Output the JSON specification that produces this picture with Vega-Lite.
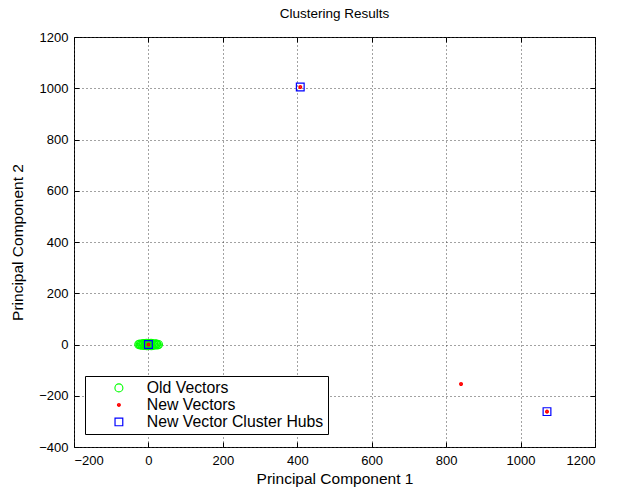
{
  "$schema": "https://vega.github.io/schema/vega-lite/v6.json",
  "width": 521,
  "height": 410,
  "autosize": "none",
  "padding": {"left": 74, "top": 37, "right": 25, "bottom": 40},
  "title": {"text": "Clustering Results", "fontSize": 13.5, "fontWeight": "normal", "font": "Liberation Sans", "color": "black", "offset": 11, "anchor": "middle"},
  "config": {
    "view": {"stroke": "black", "strokeWidth": 1},
    "font": "Liberation Sans",
    "axis": {
      "labelFont": "Liberation Sans", "labelFontSize": 13, "labelColor": "black",
      "titleFont": "Liberation Sans", "titleFontSize": 15.5, "titleFontWeight": "normal", "titleColor": "black",
      "domainColor": "black", "tickColor": "black", "gridColor": "#444444", "gridDash": [1, 3], "gridOpacity": 1
    }
  },
  "data": {"values": [
    {"series": "Old Vectors", "x": -26, "y": 0},
    {"series": "Old Vectors", "x": -23, "y": 2},
    {"series": "Old Vectors", "x": -22, "y": -2},
    {"series": "Old Vectors", "x": -19, "y": 1},
    {"series": "Old Vectors", "x": -17, "y": -3},
    {"series": "Old Vectors", "x": -15, "y": 3},
    {"series": "Old Vectors", "x": -13, "y": -1},
    {"series": "Old Vectors", "x": -12, "y": 4},
    {"series": "Old Vectors", "x": -10, "y": -4},
    {"series": "Old Vectors", "x": -8, "y": 2},
    {"series": "Old Vectors", "x": -7, "y": -2},
    {"series": "Old Vectors", "x": -5, "y": 5},
    {"series": "Old Vectors", "x": -4, "y": -5},
    {"series": "Old Vectors", "x": -2, "y": 1},
    {"series": "Old Vectors", "x": -1, "y": -3},
    {"series": "Old Vectors", "x": 1, "y": 4},
    {"series": "Old Vectors", "x": 2, "y": -4},
    {"series": "Old Vectors", "x": 4, "y": 2},
    {"series": "Old Vectors", "x": 5, "y": -1},
    {"series": "Old Vectors", "x": 7, "y": 5},
    {"series": "Old Vectors", "x": 8, "y": -5},
    {"series": "Old Vectors", "x": 10, "y": 3},
    {"series": "Old Vectors", "x": 12, "y": -3},
    {"series": "Old Vectors", "x": 14, "y": 1},
    {"series": "Old Vectors", "x": 16, "y": -2},
    {"series": "Old Vectors", "x": 18, "y": 3},
    {"series": "Old Vectors", "x": 20, "y": -1},
    {"series": "Old Vectors", "x": 22, "y": 2},
    {"series": "Old Vectors", "x": 24, "y": -2},
    {"series": "Old Vectors", "x": 27, "y": 0},
    {"series": "New Vectors", "x": 0, "y": 0},
    {"series": "New Vectors", "x": 408, "y": 1005},
    {"series": "New Vectors", "x": 840, "y": -154},
    {"series": "New Vectors", "x": 1071, "y": -262},
    {"series": "New Vector Cluster Hubs", "x": 0, "y": 0},
    {"series": "New Vector Cluster Hubs", "x": 408, "y": 1005},
    {"series": "New Vector Cluster Hubs", "x": 1071, "y": -262}
  ]},
  "resolve": {"axis": {"x": "independent", "y": "independent"}},
  "layer": [
    {
      "mark": {"type": "point", "filled": false, "opacity": 1},
      "encoding": {
        "x": {"field": "x", "type": "quantitative", "scale": {"domain": [-200, 1200], "nice": false, "zero": false},
          "axis": {"orient": "bottom", "values": [-200, 0, 200, 400, 600, 800, 1000, 1200], "format": "d", "grid": true, "tickSize": -5, "labelPadding": 12, "title": "Principal Component 1", "titlePadding": 4, "domain": false}},
        "y": {"field": "y", "type": "quantitative", "scale": {"domain": [-400, 1200], "nice": false, "zero": false},
          "axis": {"orient": "left", "values": [-400, -200, 0, 200, 400, 600, 800, 1000, 1200], "format": "d", "grid": true, "tickSize": -5, "labelPadding": 11, "title": "Principal Component 2", "titlePadding": 13, "domain": false}},
        "color": {"field": "series", "type": "nominal",
          "scale": {"domain": ["Old Vectors", "New Vectors", "New Vector Cluster Hubs"], "range": ["#00ff00", "#ff0000", "#0000ff"]},
          "legend": {"title": null, "orient": "none", "legendX": 11, "legendY": 339, "strokeColor": "black", "fillColor": "white", "padding": 4, "labelFontSize": 15.8, "labelFont": "Liberation Sans", "labelColor": "black", "labelLimit": 400, "rowPadding": 0, "symbolOffset": 22, "labelOffset": 20}},
        "shape": {"field": "series", "type": "nominal",
          "scale": {"domain": ["Old Vectors", "New Vectors", "New Vector Cluster Hubs"], "range": ["circle", "circle", "square"]}},
        "size": {"field": "series", "type": "nominal",
          "scale": {"type": "ordinal", "domain": ["Old Vectors", "New Vectors", "New Vector Cluster Hubs"], "range": [64, 3, 60]}},
        "strokeWidth": {"field": "series", "type": "nominal",
          "scale": {"type": "ordinal", "domain": ["Old Vectors", "New Vectors", "New Vector Cluster Hubs"], "range": [1.1, 2.3, 1.2]}}
      }
    },
    {
      "mark": {"type": "point", "opacity": 0},
      "encoding": {
        "x": {"field": "x", "type": "quantitative",
          "axis": {"orient": "top", "values": [-200, 0, 200, 400, 600, 800, 1000, 1200], "grid": false, "tickSize": -5, "labels": false, "title": null, "domain": false}},
        "y": {"field": "y", "type": "quantitative",
          "axis": {"orient": "right", "values": [-400, -200, 0, 200, 400, 600, 800, 1000, 1200], "grid": false, "tickSize": -5, "labels": false, "title": null, "domain": false}}
      }
    }
  ]
}
